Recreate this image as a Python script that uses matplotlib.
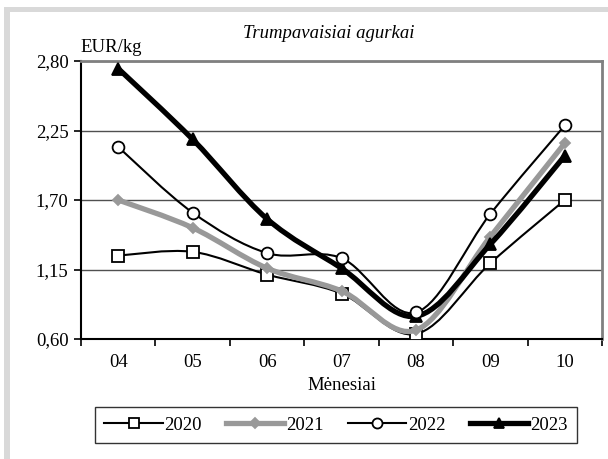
import numpy as np
import matplotlib
matplotlib.use("Agg")
import matplotlib.pyplot as plt
from matplotlib.path import Path
from matplotlib.patches import PathPatch, Rectangle
from matplotlib.lines import Line2D
from matplotlib.ticker import FixedLocator, FuncFormatter

plt.rcParams['font.family'] = ['Liberation Serif', 'DejaVu Serif']

months = ['04', '05', '06', '07', '08', '09', '10']
p2020 = [1.26, 1.29, 1.11, 0.96, 0.64, 1.20, 1.70]
p2021 = [1.70, 1.48, 1.16, 0.98, 0.67, 1.41, 2.15]
p2022 = [2.12, 1.60, 1.28, 1.24, 0.81, 1.59, 2.29]
p2023 = [2.74, 2.18, 1.55, 1.16, 0.78, 1.35, 2.05]
yticks = [0.60, 1.15, 1.70, 2.25, 2.80]
years = ['2020', '2021', '2022', '2023']


def smooth_path(x, y):
    # Excel-like smoothed line: cubic Bezier through points (Catmull-Rom tangents)
    pts = np.column_stack([x, y]).astype(float)
    n = len(pts)
    verts = [pts[0]]
    codes = [Path.MOVETO]
    for i in range(n - 1):
        p0 = pts[i - 1] if i > 0 else pts[i]
        p1 = pts[i]
        p2 = pts[i + 1]
        p3 = pts[i + 2] if i + 2 < n else pts[i + 1]
        c1 = p1 + (p2 - p0) / 6.0
        c2 = p2 - (p3 - p1) / 6.0
        verts += [c1, c2, p2]
        codes += [Path.CURVE4] * 3
    return Path(verts, codes)


fig = plt.figure(figsize=(6.08, 4.59), dpi=100)
fig.patch.set_facecolor('white')
# grey frame strips (top and left)
fig.add_artist(Rectangle((4 / 608, 1 - 12 / 459), 1, 5 / 459, transform=fig.transFigure,
                         facecolor='#d9d9d9', edgecolor='none'))
fig.add_artist(Rectangle((4 / 608, 0), 6 / 608, 1 - 7 / 459, transform=fig.transFigure,
                         facecolor='#d9d9d9', edgecolor='none'))

ax = fig.add_axes([81 / 608, 1 - 339 / 459, 521 / 608, 278 / 459])
x = np.arange(len(months))

styles = [
    dict(data=p2020, color='black', lw=1.5, marker='s', ms=8.5, mfc='white', mec='black', z=3),
    dict(data=p2021, color='#999999', lw=3.8, marker='D', ms=5.5, mfc='#999999', mec='#999999', z=4),
    dict(data=p2022, color='black', lw=1.5, marker='o', ms=8.5, mfc='white', mec='black', z=5),
    dict(data=p2023, color='black', lw=3.8, marker='^', ms=8, mfc='black', mec='black', z=4.5),
]

handles = []
for st, yr in zip(styles, years):
    patch = PathPatch(smooth_path(x, st['data']), facecolor='none', edgecolor=st['color'],
                      lw=st['lw'], zorder=st['z'], capstyle='round', joinstyle='round')
    ax.add_patch(patch)
    ax.plot(x, st['data'], ls='none', marker=st['marker'], ms=st['ms'], mfc=st['mfc'],
            mec=st['mec'], mew=1.3, zorder=st['z'] + 0.1)
    handles.append(Line2D([], [], color=st['color'], lw=st['lw'], marker=st['marker'],
                          ms=st['ms'] * 0.85, mfc=st['mfc'], mec=st['mec'], mew=1.3))

ax.set_xlim(-0.5, len(months) - 0.5)
ax.set_ylim(yticks[0], yticks[-1])
ax.yaxis.set_major_locator(FixedLocator(yticks))
ax.yaxis.set_major_formatter(FuncFormatter(lambda v, p: f'{v:.2f}'.replace('.', ',')))
ax.grid(axis='y', color='#505050', lw=1.0, zorder=1)

ax.xaxis.set_major_locator(FixedLocator(np.arange(-0.5, len(months), 1.0)))
ax.xaxis.set_major_formatter(FuncFormatter(lambda v, p: ''))
ax.xaxis.set_minor_locator(FixedLocator(x))
ax.set_xticklabels(months, minor=True)
ax.tick_params(axis='x', which='minor', length=0, labelsize=13.5, pad=11)
ax.tick_params(axis='x', which='major', length=5, width=1.2, direction='out', color='black')
ax.tick_params(axis='y', length=5, width=1.2, direction='out', labelsize=13.5, pad=4)

for side in ['top', 'right']:
    ax.spines[side].set_color('#808080')
    ax.spines[side].set_linewidth(2)
for side in ['left', 'bottom']:
    ax.spines[side].set_color('black')
    ax.spines[side].set_linewidth(1.5)

ax.set_xlabel('Mėnesiai', fontsize=13.5, labelpad=4)

fig.text(329 / 608, 1 - 33 / 459, 'Trumpavaisiai agurkai', style='italic', fontsize=13.5,
         ha='center', va='center')
fig.text(80 / 608, 1 - 47 / 459, 'EUR/kg', fontsize=13.5, ha='left', va='center')

leg = fig.legend(handles, years, loc='center', bbox_to_anchor=(336 / 608, 1 - 425 / 459),
                 ncol=4, fontsize=13.5, frameon=True, fancybox=False, edgecolor='black',
                 handlelength=3.1, handletextpad=0.1, columnspacing=1.3, borderpad=0.5)
leg.get_frame().set_linewidth(1.0)

fig.savefig('out.png', dpi=100)
